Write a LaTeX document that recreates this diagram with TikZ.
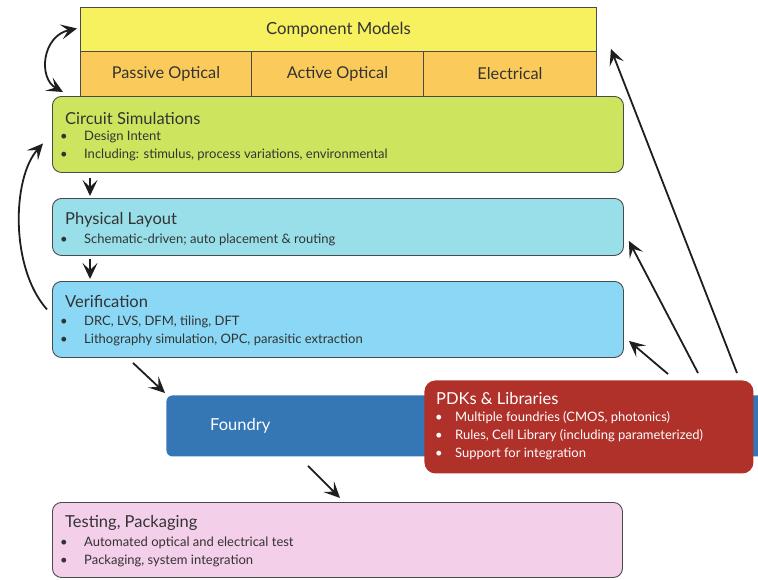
\documentclass[tikz,border=0pt]{standalone}
\usepackage{fontspec}
\setmainfont{Lato}
\usetikzlibrary{arrows.meta,calc}
\definecolor{cmyel}{HTML}{F7F160}
\definecolor{cmorg}{HTML}{FACB5A}
\definecolor{csgrn}{HTML}{CDE55E}
\definecolor{plcyan}{HTML}{99DFEA}
\definecolor{vrblue}{HTML}{8AD8F5}
\definecolor{fdblue}{HTML}{3577B5}
\definecolor{pdkred}{HTML}{B0302A}
\definecolor{tppink}{HTML}{F4CFEA}
\definecolor{edge}{HTML}{4A4A4A}
\definecolor{txt}{HTML}{333333}
\definecolor{arr}{HTML}{1E1E1E}
\tikzset{
  cell/.style={draw=edge, line width=0.9pt, anchor=north west, inner sep=0pt},
  stage/.style={draw=edge, line width=0.9pt, rounded corners=9pt, anchor=north west, inner sep=0pt},
  ttl/.style={font=\fontsize{16.5}{18}\selectfont, text=txt, anchor=west, inner sep=0pt},
  cellt/.style={font=\fontsize{16.3}{18}\selectfont, text=txt, inner sep=0pt},
  bul/.style={font=\fontsize{13}{15}\selectfont, text=txt, anchor=west, inner sep=0pt},
  tip/.style={Stealth[length=16pt,width=15pt,inset=7pt]},
  flow/.style={draw=arr, line width=1.8pt, -{Stealth[length=16pt,width=15pt,inset=7pt]}},
  flow2/.style={draw=arr, line width=1.8pt, {Stealth[length=16pt,width=15pt,inset=7pt]}-{Stealth[length=16pt,width=15pt,inset=7pt]}},
}
\newcommand{\bl}[1]{\makebox[24pt][l]{•}#1}
\begin{document}
\begin{tikzpicture}[x=1pt,y=-1pt]
\useasboundingbox (0,0) rectangle (758,579);
% Component models
\node[cell, fill=cmyel, minimum width=516pt, minimum height=44pt] (cm) at (80,7) {};
\node[cell, fill=cmorg, minimum width=171pt, minimum height=45pt] (po) at (80,51) {};
\node[cell, fill=cmorg, minimum width=172pt, minimum height=45pt] (ao) at (251,51) {};
\node[cell, fill=cmorg, minimum width=173pt, minimum height=45pt] (el) at (423,51) {};
\node[cellt, font=\fontsize{16.7}{18}\selectfont] (cmt) at (cm.center) {Component Models};
\node[cellt] (pot) at (po.center) {Passive Optical};
\node[cellt] (aot) at (ao.center) {Active Optical};
\node[cellt] (elt) at (el.center) {Electrical};
% Circuit simulations
\node[stage, fill=csgrn, minimum width=571pt, minimum height=76pt] (cs) at (52,96) {};
\node[ttl] (cst) at (65,118) {Circuit Simulations};
\node[bul] (cs1) at (60,137) {\bl{Design Intent}};
\node[bul] (cs2) at (60,155) {\bl{Including: stimulus, process variations, environmental}};
% Physical layout
\node[stage, fill=plcyan, minimum width=571pt, minimum height=57pt] (pl) at (52,198) {};
\node[ttl] (plt) at (65,220) {Physical Layout};
\node[bul] (pl1) at (60,240) {\bl{Schematic-driven; auto placement \& routing}};
% Verification
\node[stage, fill=vrblue, minimum width=571pt, minimum height=76pt] (vr) at (52,281) {};
\node[ttl] (vrt) at (65,301) {Verification};
\node[bul] (vr1) at (60,322) {\bl{DRC, LVS, DFM, tiling, DFT}};
\node[bul] (vr2) at (60,340) {\bl{Lithography simulation, OPC, parasitic extraction}};
% Foundry
\node[stage, draw=none, fill=fdblue, rounded corners=6pt, minimum width=610pt, minimum height=61pt] (fd) at (166,395) {};
\node[ttl, text=white] (fdt) at (210,426) {Foundry};
% PDKs
\node[stage, draw=none, fill=pdkred, rounded corners=11pt, minimum width=329pt, minimum height=93pt] (pdk) at (424,380) {};
\node[ttl, text=white] (pdkt) at (436,398) {PDKs \& Libraries};
\node[bul, text=white] (pdk1) at (435,418) {\makebox[20pt][l]{•}Multiple foundries (CMOS, photonics)};
\node[bul, text=white] (pdk2) at (435,436) {\makebox[20pt][l]{•}Rules, Cell Library (including parameterized)};
\node[bul, text=white] (pdk3) at (435,454) {\makebox[20pt][l]{•}Support for integration};
% Testing
\node[stage, fill=tppink, minimum width=570pt, minimum height=75pt] (tp) at (52,502) {};
\node[ttl] (tpt) at (65,523) {Testing, Packaging};
\node[bul] (tp1) at (60,543) {\bl{Automated optical and electrical test}};
\node[bul] (tp2) at (60,561) {\bl{Packaging, system integration}};
% connector end points
\coordinate (cmL) at ($(cm.west)+(-3,-1)$);
\coordinate (csTL) at ($(cs.north west)+(11,-4)$);
\coordinate (csL) at ($(cs.west)+(-9,9)$);
\coordinate (vrL) at ($(vr.west)+(-5,-10)$);
\coordinate (csB) at ($(cs.south west)+(38,5)$);
\coordinate (plT) at ($(pl.north west)+(38,-2)$);
\coordinate (plB) at ($(pl.south west)+(38,3)$);
\coordinate (vrT) at ($(vr.north west)+(38,-2)$);
\coordinate (vrB) at ($(vr.south west)+(81,5)$);
\coordinate (fdTL) at ($(fd.north west)+(-1,-2)$);
\coordinate (fdB) at ($(fd.south west)+(142,9)$);
\coordinate (tpT) at ($(tp.north west)+(288,-4)$);
\coordinate (pA) at ($(pdk.north west)+(244,-6)$);
\coordinate (pB) at ($(pdk.north west)+(274,-7)$);
\coordinate (pC) at ($(pdk.north west)+(313,-7)$);
\coordinate (vrR) at ($(vr.south east)+(5,-17)$);
\coordinate (plR) at ($(pl.east)+(5,14)$);
\coordinate (cmR) at ($(cm.south east)+(14,-3)$);
% connectors
\draw[flow2] (csTL) .. controls (38,78) and (42,36) .. (cmL);
\draw[flow] (vrL) .. controls (10,268) and (12,178) .. (csL);
\draw[flow] (csB) -- (plT);
\draw[flow] (plB) -- (vrT);
\draw[flow] (vrB) -- (fdTL);
\draw[flow] (fdB) -- (tpT);
\draw[flow] (pA) -- (vrR);
\draw[flow] (pB) -- (plR);
\draw[flow] (pC) -- (cmR);
\end{tikzpicture}
\end{document}
